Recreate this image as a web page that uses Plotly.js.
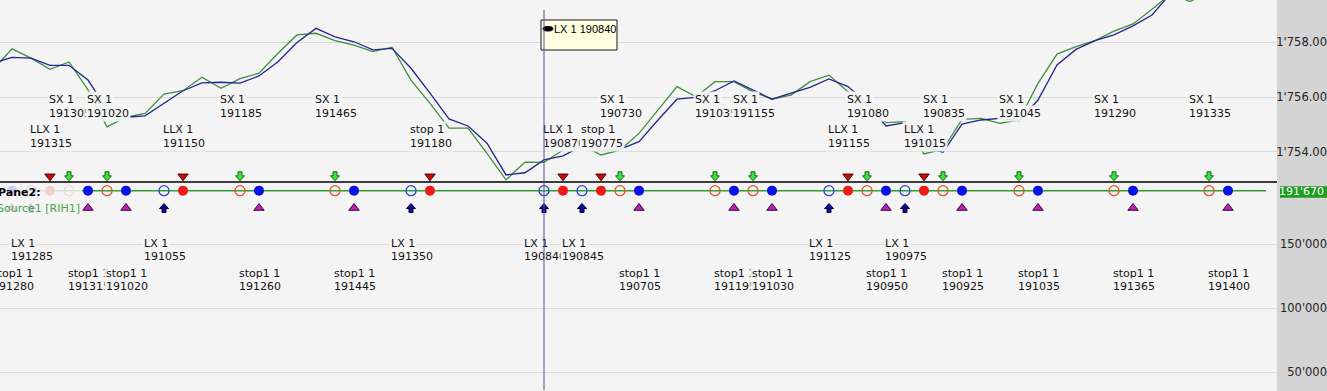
<!DOCTYPE html>
<html>
<head>
<meta charset="utf-8">
<script src="https://cdn.plot.ly/plotly-3.0.1.min.js"></script>
<style>
html,body{margin:0;padding:0;background:#d4d4d4;overflow:hidden;}
#chart{width:1327px;height:391px;}
</style>
</head>
<body>
<div id="chart"></div>
<script>
// ---------------- DATA ----------------
const bars = [-1,0,1,2,3,4,5,6,7,8,9,10,11,12,13,14,15,16,17,18,19,20,21,22,23,24,25,26,27,28,29,30,31,32,33,34,35,36,37,38,39,40,41,42,43,44,45,46,47,48,49,50,51,52,53,54,55,56,57,58,59,60,61,62,63,64,65,66];

const closePrice = [1757.00,1757.76,1757.42,1757.01,1757.28,1756.26,1754.91,1755.26,1755.40,1756.11,
  1756.23,1756.72,1756.32,1756.67,1756.87,1757.60,1758.27,1758.33,1758.06,1757.90,
  1757.66,1757.82,1756.62,1755.77,1754.86,1754.86,1753.94,1752.97,1753.62,1753.61,
  1754.06,1754.25,1753.88,1754.06,1754.67,1755.52,1756.38,1756.01,1756.56,1756.56,
  1756.19,1755.92,1756.07,1756.56,1756.80,1756.19,1755.71,1755.06,1755.10,1753.92,
  1754.09,1755.18,1755.22,1755.04,1755.16,1756.50,1757.57,1757.84,1758.06,1758.41,
  1758.67,1759.21,1759.77,1759.49,1759.84,1760.46,1761.01,1761.56];

const avgPrice = [1757.24,1757.45,1757.42,1757.16,1757.16,1756.62,1755.56,1755.26,1755.31,1755.77,
  1756.23,1756.52,1756.54,1756.51,1756.77,1757.29,1757.99,1758.51,1758.20,1758.02,
  1757.72,1757.78,1757.05,1756.14,1755.20,1754.94,1754.31,1753.15,1753.23,1753.70,
  1753.85,1754.21,1754.06,1754.09,1754.37,1755.16,1755.92,1755.99,1756.23,1756.59,
  1756.26,1755.92,1756.14,1756.35,1756.66,1756.38,1755.78,1754.94,1755.06,1754.18,
  1753.98,1755.01,1755.16,1755.22,1755.13,1755.89,1757.17,1757.74,1758.06,1758.27,
  1758.60,1759.00,1759.80,1760.64,1761.38,1761.92,1762.47,1763.02];

const sourceLevel = 191670;   // Pane2 "Source1 [RIH1]" last value

// short exits (SX): green down arrow, open red circle
const sxBars   = [3,5,12,17,32,37,39,45,49,53,58,63];
const sxPrices = [191305,191020,191185,191465,190730,191035,191155,191080,190835,191045,191290,191335];

// short entries (LLX / stop): red down triangle, filled red circle
const shBars   = [2,9,22,29,31,44,48];
const shNames  = ["LLX 1","LLX 1","stop 1","LLX 1","stop 1","LLX 1","LLX 1"];
const shPrices = [191315,191150,191180,190870,190775,191155,191015];

// long exits (LX): navy up arrow, open blue circle
const lxBars   = [1,8,21,28,30,43,47];
const lxPrices = [191285,191055,191350,190840,190845,191125,190975];

// stop1 : magenta up triangle, filled blue circle
const stBars   = [0,4,6,13,18,33,38,40,46,50,54,59,64];
const stPrices = [191280,191315,191020,191260,191445,190705,191195,191030,190950,190925,191035,191365,191400];

const tipBar = 28;
const tipText = "LX 1 190840";

// ---------------- STYLE / LAYOUT CONSTANTS ----------------
const W = 1327, H = 391;
const PLOT_W = 1277;
const SPLIT_PX = 182;                // pane separator
const xDomEnd = PLOT_W / W;
const splitPaper = 1 - SPLIT_PX / H;
const UPPER_LEVEL = 1753.10;         // marker row just above the separator (top-pane units)
const LOWER_LEVEL = 178100;          // marker row under the source line (pane-2 units)
const py = p => 1 - p / H;           // pixel row -> paper

const labelFont = {family: 'DejaVu Sans', size: 11, color: '#111'};
const labelBg = 'rgba(244,244,244,0.93)';

const traces = [];
traces.push({x:[bars[0], bars[bars.length-1]], y:[sourceLevel, sourceLevel], xaxis:'x', yaxis:'y2',
  mode:'lines', line:{color:'#2f9f2f', width:1.5}, hoverinfo:'skip'});
traces.push({x:bars, y:closePrice, xaxis:'x', yaxis:'y', mode:'lines', line:{color:'#3f8f3f', width:1.3}, hoverinfo:'skip'});
traces.push({x:bars, y:avgPrice, xaxis:'x', yaxis:'y', mode:'lines', line:{color:'#25258f', width:1.3}, hoverinfo:'skip'});

function mk(xs, yval, yaxis, marker) {
  return {x: xs, y: xs.map(() => yval), xaxis:'x', yaxis: yaxis, mode:'markers', marker: marker,
          cliponaxis:false, hoverinfo:'skip'};
}
traces.push(mk(sxBars, sourceLevel, 'y2', {symbol:'circle-open', size:10, color:'#e2522e', line:{width:1.3}}));
traces.push(mk(shBars, sourceLevel, 'y2', {symbol:'circle', size:10, color:'#f01818', line:{width:0}}));
traces.push(mk(lxBars, sourceLevel, 'y2', {symbol:'circle-open', size:10, color:'#2a46d6', line:{width:1.3}}));
traces.push(mk(stBars, sourceLevel, 'y2', {symbol:'circle', size:10, color:'#0a10e8', line:{width:0}}));
traces.push(mk(shBars, UPPER_LEVEL, 'y', {symbol:'triangle-down', size:9, color:'#cc0a0a', line:{color:'#4a0000', width:1}}));
traces.push(mk(stBars, LOWER_LEVEL, 'y2', {symbol:'triangle-up', size:9, color:'#b523b5', line:{color:'#3a003a', width:1}}));

// block arrows as pixel-sized path shapes anchored on data
const downArrow = 'M-2,4.5 L2,4.5 L2,0.5 L4.5,0.5 L0,-4.5 L-4.5,0.5 L-2,0.5 Z';
const upArrow   = 'M-2,-4.5 L2,-4.5 L2,-0.5 L4.5,-0.5 L0,4.5 L-4.5,-0.5 L-2,-0.5 Z';
const shapes = [];
sxBars.forEach(b => shapes.push({type:'path', xref:'x', yref:'y', xsizemode:'pixel', ysizemode:'pixel',
  xanchor:b, yanchor:UPPER_LEVEL, path:downArrow, fillcolor:'#3be03b', line:{color:'#1d6a1d', width:1}, layer:'above'}));
lxBars.forEach(b => shapes.push({type:'path', xref:'x', yref:'y2', xsizemode:'pixel', ysizemode:'pixel',
  xanchor:b, yanchor:LOWER_LEVEL, path:upArrow, fillcolor:'#0a0a8a', line:{color:'#000040', width:1}, layer:'above'}));

// pane separator
shapes.push({type:'line', xref:'paper', yref:'paper', x0:0, x1:xDomEnd, y0:splitPaper, y1:splitPaper,
  line:{color:'#000', width:1.5}, layer:'above'});
// legend box of pane 2 (semi transparent)
shapes.push({type:'rect', xref:'paper', yref:'paper', x0:0, x1:82/W, y0:py(217), y1:py(184),
  fillcolor:'rgba(245,245,245,0.82)', line:{width:0}, layer:'above'});
// green last-value box on the axis
shapes.push({type:'rect', xref:'paper', yref:'y2', ysizemode:'pixel', yanchor:sourceLevel,
  x0:1280/W, x1:1, y0:-7, y1:4.5, fillcolor:'#1f9d1f', line:{width:0}, layer:'above'});
// tooltip box
shapes.push({type:'rect', xref:'x', yref:'paper', xsizemode:'pixel', ysizemode:'pixel', xanchor:tipBar, yanchor:1,
  x0:-3, x1:73, y0:-50, y1:-20, fillcolor:'#ffffe1', line:{color:'#1a1a1a', width:1}, layer:'above'});
shapes.push({type:'circle', xref:'x', yref:'paper', xsizemode:'pixel', ysizemode:'pixel', xanchor:tipBar, yanchor:1,
  x0:-1, x1:9, y0:-31, y1:-26.5, fillcolor:'#000', line:{color:'#000', width:1}, layer:'above'});

// ---------------- ANNOTATIONS ----------------
const annotations = [];
const ROW_SX = [100, 113.3], ROW_SH = [130, 143.3], ROW_LX = [243.3, 256.3], ROW_ST = [273.3, 286.3];
function label(bar, l1, l2, row) {
  [l1, l2].forEach((t, k) => annotations.push({
    xref:'x', x:bar, xanchor:'left', xshift:-22, yref:'paper', y:py(row[k]), yanchor:'middle',
    text:t, showarrow:false, font:labelFont, bgcolor:labelBg, borderpad:1
  }));
}
sxBars.forEach((b, i) => label(b, 'SX 1', String(sxPrices[i]), ROW_SX));
shBars.forEach((b, i) => label(b, shNames[i], String(shPrices[i]), ROW_SH));
lxBars.forEach((b, i) => label(b, 'LX 1', String(lxPrices[i]), ROW_LX));
stBars.forEach((b, i) => label(b, 'stop1 1', String(stPrices[i]), ROW_ST));

annotations.push({xref:'paper', x:0, xanchor:'left', xshift:-4, yref:'paper', y:py(193), yanchor:'middle',
  text:'<b>Pane2:</b>', showarrow:false, font:{family:'DejaVu Sans', size:11, color:'#000'}});
annotations.push({xref:'paper', x:0, xanchor:'left', xshift:-5, yref:'paper', y:py(208), yanchor:'middle',
  text:'Source1 [RIH1]', showarrow:false, font:{family:'DejaVu Sans', size:11, color:'#45a545'}});
annotations.push({xref:'paper', x:1, xanchor:'right', xshift:-1, yref:'y2', y:sourceLevel, yshift:-1, yanchor:'middle',
  text:"191'670", showarrow:false, font:{family:'DejaVu Sans', size:11, color:'#fff'}});
// crosshair (drawn above the labels)
annotations.push({xref:'x', x:tipBar, yref:'paper', y:0, text:' ', showarrow:true, arrowhead:0, arrowwidth:1,
  arrowcolor:'#50509a', ax:0, ay:-H, standoff:0, startstandoff:0});
annotations.push({xref:'x', x:tipBar, xanchor:'left', xshift:8, yref:'paper', y:1, yshift:-29, yanchor:'middle',
  text:tipText, showarrow:false, font:{family:'Liberation Sans', size:11, color:'#000'}});

const axisFont = {family:'DejaVu Sans', size:11.5, color:'#222'};
const layout = {
  width:W, height:H,
  margin:{l:0, r:0, t:0, b:0, pad:0},
  paper_bgcolor:'#d4d4d4',
  plot_bgcolor:'#f4f4f4',
  separators:".'",
  showlegend:false,
  hovermode:false,
  xaxis:{domain:[0, xDomEnd], range:[-12/19, (PLOT_W-12)/19], showgrid:false, zeroline:false,
         showticklabels:false, ticks:'', showline:false, anchor:'y2', fixedrange:true},
  yaxis:{domain:[splitPaper, 1], range:[1752.892, 1759.547], anchor:'free', position:1, side:'left',
         tick0:1754, dtick:2, tickformat:',.2f', showgrid:true, gridcolor:'#dadada', gridwidth:1,
         zeroline:false, showline:false, ticks:'', tickfont:axisFont, automargin:false, fixedrange:true},
  yaxis2:{domain:[0, splitPaper], range:[35156, 198437], anchor:'free', position:1, side:'left',
         tick0:0, dtick:50000, tickformat:',d', showgrid:true, gridcolor:'#dadada', gridwidth:1,
         zeroline:false, showline:false, ticks:'', tickfont:axisFont, automargin:false, fixedrange:true},
  shapes:shapes,
  annotations:annotations
};

Plotly.newPlot('chart', traces, layout, {displayModeBar:false, staticPlot:true});
</script>
</body>
</html>
